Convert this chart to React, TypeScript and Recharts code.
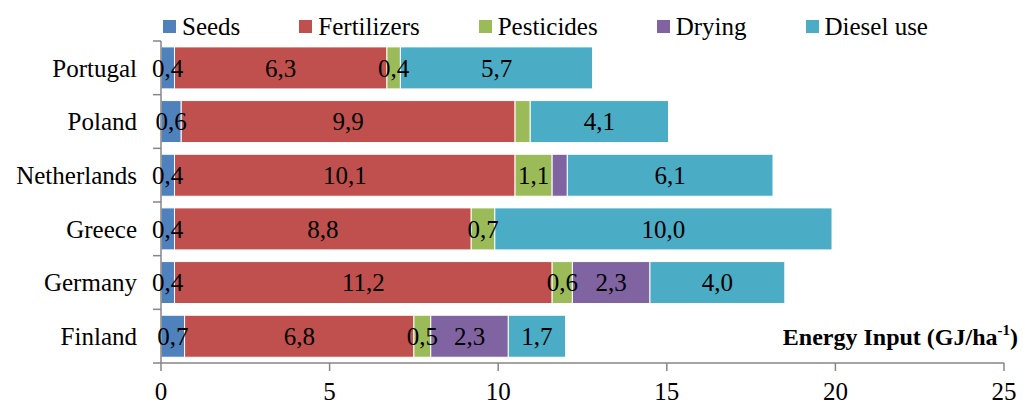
import React from "react";
import { BarChart, Bar, XAxis, YAxis, Legend, LabelList } from "recharts";

const categories = ["Portugal", "Poland", "Netherlands", "Greece", "Germany", "Finland"];
const seeds = [0.4, 0.6, 0.4, 0.4, 0.4, 0.7];
const fertilizers = [6.3, 9.9, 10.1, 8.8, 11.2, 6.8];
const pesticides = [0.4, 0.45, 1.1, 0.7, 0.6, 0.5];
const drying = [0, 0, 0.45, 0, 2.3, 2.3];
const diesel = [5.7, 4.1, 6.1, 10.0, 4.0, 1.7];
const xTicks = [0, 5, 10, 15, 20, 25];
const seriesKeys = ["seeds", "fertilizers", "pesticides", "drying", "diesel"];
const seriesValues = [seeds, fertilizers, pesticides, drying, diesel];
const seriesNames = ["Seeds", "Fertilizers", "Pesticides", "Drying", "Diesel use"];
const seriesColors = ["#4F81BD", "#C0504D", "#9BBB59", "#8064A2", "#4BACC6"];
// labels not printed in the original
const hiddenLabels = ["Poland|pesticides", "Netherlands|drying"];

const fmt = (v: number) => (Math.round(v * 10) / 10).toFixed(1).replace(".", ",");

const data = categories.map((name, i) => {
  const row: any = { name };
  seriesKeys.forEach((k, s) => {
    const v = seriesValues[s][i];
    row[k] = v;
    row[`${k}_label`] = v > 0 && !hiddenLabels.includes(`${name}|${k}`) ? fmt(v) : "";
  });
  return row;
});

const W = 1023;
const H = 407;
const MARGIN = { top: 0, right: 19, bottom: 4, left: 0 };
const Y_AXIS_W = 161;
const X_AXIS_H = 40;
const LEGEND_H = 41;
const PLOT_H = H - MARGIN.top - LEGEND_H - MARGIN.bottom - X_AXIS_H;
const BAND = PLOT_H / categories.length;
const FONT = "Liberation Serif";
const AXIS_COLOR = "#868686";
const FS = 25;

const CatTick = (props: any) => {
  const { x, y, payload, index, visibleTicksCount } = props;
  const axisX = x + 24;
  return (
    <g>
      <line x1={axisX - 8} x2={axisX} y1={y - BAND / 2} y2={y - BAND / 2} stroke={AXIS_COLOR} strokeWidth={1.5} />
      {index === visibleTicksCount - 1 && (
        <line x1={axisX - 8} x2={axisX} y1={y + BAND / 2} y2={y + BAND / 2} stroke={AXIS_COLOR} strokeWidth={1.5} />
      )}
      <text x={x} y={y} dy={FS * 0.35} textAnchor="end" fontFamily={FONT} fontSize={FS} fill="#000">
        {payload.value}
      </text>
    </g>
  );
};

const SegLabel = (props: any) => {
  const { x, y, width, height, value } = props;
  if (!value) return null;
  return (
    <text
      x={x + width / 2}
      y={y + height / 2}
      dy={FS * 0.35}
      textAnchor="middle"
      fontFamily={FONT}
      fontSize={FS}
      fill="#000"
    >
      {value}
    </text>
  );
};

const AxisTitle = (props: any) => {
  const { viewBox } = props;
  const right = viewBox.x + viewBox.width + 14;
  const baseY = viewBox.y - 18;
  return (
    <text x={right} y={baseY} textAnchor="end" fontFamily={FONT} fontWeight="bold" fontSize={24} fill="#000">
      Energy Input (GJ/ha
      <tspan fontSize={15} dy={-10}>-1</tspan>
      <tspan dy={10}>)</tspan>
    </text>
  );
};

const LegendContent = () => (
  <div
    style={{
      display: "flex",
      alignItems: "center",
      justifyContent: "space-between",
      marginLeft: 163,
      width: 928 - 163,
      paddingTop: 11,
      height: LEGEND_H,
      boxSizing: "border-box",
      fontFamily: FONT,
      fontSize: FS,
      lineHeight: "25px",
      color: "#000",
    }}
  >
    {seriesNames.map((n, i) => (
      <div key={n} style={{ display: "flex", alignItems: "center", gap: 6 }}>
        <span style={{ width: 13, height: 13, background: seriesColors[i], display: "inline-block" }} />
        <span>{n}</span>
      </div>
    ))}
  </div>
);

export default function App() {
  return (
    <div style={{ width: W, height: H, background: "#fff", fontFamily: FONT }}>
      <style>{`body{margin:0;background:#fff;}`}</style>
      <BarChart
        width={W}
        height={H}
        data={data}
        layout="vertical"
        margin={MARGIN}
        barCategoryGap="11%"
      >
        <Legend
          verticalAlign="top"
          align="left"
          content={<LegendContent />}
          wrapperStyle={{ top: 0, left: 0, width: W, height: LEGEND_H }}
        />
        <XAxis
          type="number"
          domain={[0, 25]}
          ticks={xTicks}
          height={X_AXIS_H}
          tickSize={8}
          tickMargin={11}
          axisLine={{ stroke: AXIS_COLOR, strokeWidth: 1.5 }}
          tickLine={{ stroke: AXIS_COLOR, strokeWidth: 1.5 }}
          tick={{ fontFamily: FONT, fontSize: FS, fill: "#000" }}
          label={<AxisTitle />}
        />
        <YAxis
          type="category"
          dataKey="name"
          width={Y_AXIS_W}
          tickSize={8}
          tickMargin={16}
          tickLine={false}
          axisLine={{ stroke: AXIS_COLOR, strokeWidth: 1.5 }}
          tick={<CatTick />}
          interval={0}
        />
        {seriesKeys.map((k, i) => (
          <Bar
            key={k}
            dataKey={k}
            name={seriesNames[i]}
            stackId="a"
            fill={seriesColors[i]}
            stroke="#ffffff"
            strokeWidth={1}
            isAnimationActive={false}
          >
            <LabelList dataKey={`${k}_label`} content={<SegLabel />} />
          </Bar>
        ))}
      </BarChart>
    </div>
  );
}
